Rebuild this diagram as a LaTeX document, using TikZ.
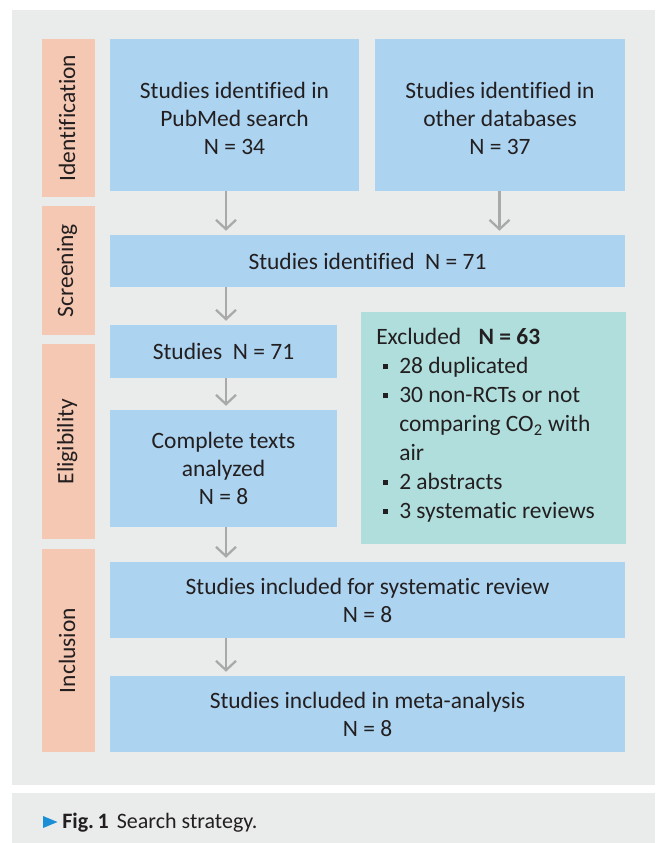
\documentclass[tikz,border=0pt]{standalone}
\usepackage{fontspec}
\setmainfont{Carlito}[Ligatures=NoCommon]
\usetikzlibrary{arrows.meta,fit}
\definecolor{bggray}{HTML}{EAECEC}
\definecolor{boxblue}{HTML}{ACD3F0}
\definecolor{salmon}{HTML}{F4C8B2}
\definecolor{teal}{HTML}{AFDEDC}
\definecolor{arrgray}{HTML}{A9A9A9}
\definecolor{txt}{HTML}{231F20}
\definecolor{capblue}{HTML}{1B8FD5}
\newcommand\bul{\hspace*{5.25pt}\rule[3.3pt]{3.9pt}{3.9pt}\hspace*{8.1pt}}
\begin{document}
\begin{tikzpicture}[x=0.75pt,y=-0.75pt,
  panel/.style={fill=bggray, draw=none, inner sep=0pt},
  box/.style={fill=boxblue, inner sep=0pt, align=center, text=txt,
    font=\fontsize{17.6}{21}\selectfont},
  stagebox/.style={fill=salmon, inner sep=0pt},
  stagetxt/.style={rotate=90, inner sep=0pt, text=txt, font=\fontsize{17.6}{21}\selectfont},
  exclbox/.style={fill=teal, inner sep=0pt},
  arr/.style={draw=arrgray, line width=1.7pt,
    -{Straight Barb[length=7pt,width=15pt,line width=1.7pt]}, shorten >=3pt}]
\useasboundingbox (0,0) rectangle (657,843);
\fill[white] (0,0) rectangle (657,843);
% panels
\node[panel, fit={(12,10) (655,785)}] (mainpanel) {};
\node[panel, fit={(12,793) (655,843)}] (cappanel) {};
% stage labels
\node[stagebox, fit={(42,39) (95,197)}] (sident) {};
\node[stagebox, fit={(42,206) (95,335)}] (sscreen) {};
\node[stagebox, fit={(42,344) (95,539)}] (selig) {};
\node[stagebox, fit={(42,549) (95,752)}] (sincl) {};
\node[stagetxt] (tident) at ([xshift=-1pt]sident.center) {Identification};
\node[stagetxt] (tscreen) at ([xshift=-1pt]sscreen.center) {Screening};
\node[stagetxt] (telig) at ([xshift=-1pt]selig.center) {Eligibility};
\node[stagetxt] (tincl) at ([xshift=-1pt]sincl.center) {Inclusion};
% boxes
\node[box, fit={(110,39) (359,191)}] (pub) {};
\node[box] (pubt) at ([yshift=-2.5pt]pub.center) {Studies identified in\\PubMed search\\N = 34};
\node[box, fit={(375,39) (625,191)}] (oth) {};
\node[box] (otht) at ([yshift=-2.5pt]oth.center) {Studies identified in\\other databases\\N = 37};
\node[box, fit={(110,235) (625,287)}] (ident) {};
\node[box] (identt) at (ident.center) {Studies identified\ \ N = 71};
\node[box, fit={(110,325) (337,378)}] (stud) {};
\node[box] (studt) at (stud.center) {Studies\ \ N = 71};
\node[box, fit={(110,410) (337,527)}] (compl) {};
\node[box] (complt) at (compl.center) {Complete texts\\analyzed\\N = 8};
\node[box, fit={(110,562) (625,638)}] (sysrev) {};
\node[box] (sysrevt) at (sysrev.center) {Studies included for systematic review\\N = 8};
\node[box, fit={(110,676) (625,752)}] (meta) {};
\node[box] (metat) at (meta.center) {Studies included in meta-analysis\\N = 8};
% excluded
\node[exclbox, fit={(361,312) (626,544)}] (excl) {};
\node[anchor=north west, inner sep=0pt, align=left, text=txt,
  font=\fontsize{17.6}{21.75}\selectfont] (exclt) at (376,328)
  {Excluded\hspace{13pt}\textbf{N = 63}\\
   \bul 28 duplicated\\
   \bul 30 non-RCTs or not\\
   \hspace*{17.25pt}comparing CO\textsubscript{2} with\\
   \hspace*{17.25pt}air\\
   \bul 2 abstracts\\
   \bul 3 systematic reviews};
% arrows
\coordinate (ax) at (226,0);
\coordinate (bx) at (499.5,0);
\draw[arr] (pub.south -| ax) -- (ident.north -| ax);
\draw[arr] (oth.south -| bx) -- (ident.north -| bx);
\draw[arr] (ident.south -| ax) -- (stud.north -| ax);
\draw[arr] (stud.south -| ax) -- (compl.north -| ax);
\draw[arr] (compl.south -| ax) -- (sysrev.north -| ax);
\draw[arr] (sysrev.south -| ax) -- (meta.north -| ax);
% caption
\fill[capblue] (43,816) -- (57.5,822) -- (43,828) -- cycle;
\node[anchor=base west, inner sep=0pt, text=txt, font=\fontsize{16.5}{19}\selectfont]
  (capt) at (62,828) {\textbf{Fig.\,1}\hspace{6pt}Search strategy.};
\end{tikzpicture}
\end{document}
